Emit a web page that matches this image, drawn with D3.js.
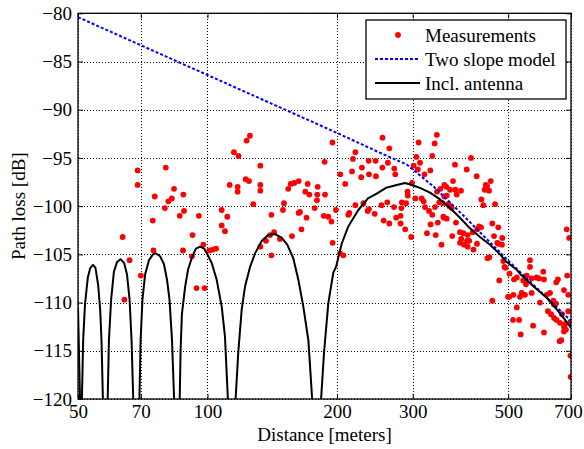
<!DOCTYPE html>
<html>
<head>
<meta charset="utf-8">
<script src="https://d3js.org/d3.v7.min.js"></script>
<style>
body { margin: 0; background: #ffffff; }
text { font-family: "Liberation Serif", "Times New Roman", serif; }
</style>
</head>
<body>
<div id="canvas"></div>
<script>
"use strict"

// tick values
let xTicks = [50, 70, 100, 200, 300, 500, 700];
let yTicks = [-120, -115, -110, -105, -100, -95, -90, -85, -80];

let measurements = [
  [63.5,-103.2],[65.9,-105.6],[64.1,-109.7],[68.8,-96.3],[68.8,-97.8],[70.0,-107.2],
  [74.6,-101.5],[74.9,-104.6],[75.4,-99.0],[80.0,-96.0],[79.6,-100.2],[81.1,-99.5],
  [82.6,-99.2],[83.6,-98.2],[86.2,-101.0],[87.9,-98.8],[88.2,-100.5],[87.7,-104.6],
  [92.3,-103.0],[92.0,-105.2],[94.3,-108.5],[95.5,-101.0],[97.8,-104.0],[98.5,-108.5],
  [101.0,-104.6],[102.9,-104.5],[104.7,-104.4],[107.9,-100.4],[111.2,-101.1],[107.9,-102.0],
  [109.8,-102.6],[112.6,-97.8],[115.2,-94.4],[117.5,-98.0],[117.5,-98.5],[118.1,-94.8],
  [122.7,-97.2],[124.9,-97.4],[123.3,-93.2],[125.5,-92.7],[127.8,-99.8],[132.7,-95.8],
  [132.7,-97.8],[132.7,-98.4],[132.7,-104.2],[136.8,-103.6],[139.8,-103.0],[142.8,-102.7],
  [140.8,-100.9],[140.8,-105.1],[147.4,-103.4],[149.8,-100.4],[150.6,-99.7],[154.1,-98.2],
  [156.1,-97.7],[159.1,-97.6],[162.9,-97.4],[162.9,-100.7],[157.2,-103.1],[164.1,-100.6],
  [165.4,-102.4],[168.8,-98.5],[169.9,-101.2],[171.0,-97.7],[172.5,-98.8],[177.5,-100.2],
  [180.4,-98.0],[180.0,-98.8],[179.7,-99.4],[186.3,-101.0],[187.2,-95.4],[187.6,-98.8],
  [190.9,-101.1],[194.2,-101.6],[195.2,-93.4],[195.4,-103.8],[198.9,-100.4],[203.6,-96.7],
  [203.3,-104.9],[206.9,-105.1],[209,-97.7],[212.5,-100.9],[213.7,-100.7],[216.8,-96.4],
  [217.9,-95.1],[220.7,-94.4],[220.7,-99.9],[227.7,-97.0],[228.6,-96.0],[230.5,-99.7],
  [235.7,-100.5],[237.4,-100.3],[237.4,-96.7],[237.0,-95.3],[246,-95.3],[246.4,-96.9],
  [244.7,-100.8],[253.8,-99.9],[255.2,-92.9],[255,-96.0],[256.8,-101.5],[261.8,-99.6],
  [262.7,-95.5],[264.7,-94.0],[264.7,-101.8],[271.8,-96.1],[271.4,-100.1],[273.3,-96.7],
  [274.6,-101.2],[281.1,-101.0],[281.1,-101.8],[282.3,-100.2],[283,-99.6],[288.2,-102.4],
  [289.5,-99.7],[291.8,-98.5],[292.1,-98.9],[297.6,-103.2],[298.9,-97.6],[301.5,-95.8],
  [304.2,-99.2],[306,-94.9],[308.3,-96.2],[309.6,-93.4],[311.9,-95.5],[314.7,-99.2],
  [318.1,-99.5],[319.5,-96.7],[320.3,-100.1],[323.8,-102.8],[327.3,-100.5],[329.6,-96.3],
  [330,-101.9],[333.1,-94.8],[333.1,-100.9],[337.4,-93.5],[338,-100.1],[339.3,-103.0],
  [341.4,-92.6],[341.7,-98.5],[343.2,-101.7],[345.9,-99.6],[347.8,-98.2],[350,-104.0],
  [352.3,-99.7],[353.4,-101.1],[354.7,-101.2],[355.3,-97.8],[355.3,-99.0],[359.1,-98.0],
  [359.9,-98.9],[359.9,-101.3],[363,-99.8],[365,-100.0],[366.3,-98.3],[369.6,-100.2],
  [370.7,-103.1],[372.2,-97.4],[376.2,-95.7],[376.8,-98.3],[378.2,-101.7],[379.6,-98.8],
  [386.4,-102.7],[388.5,-98.4],[389,-103.4],[386.4,-103.8],[393.3,-102.8],[394.7,-104.0],
  [400.5,-96.2],[401.1,-103.6],[402.6,-103.0],[402.6,-104.2],[406.1,-103.6],[409.9,-95.0],
  [413.6,-102.7],[415.4,-104.5],[422.5,-96.9],[423.2,-103.9],[423.9,-102.4],[427.8,-102.1],
  [432.4,-102.2],[433.2,-99.3],[437.8,-99.9],[441.1,-98.3],[443.5,-97.8],[446.6,-97.9],
  [447.7,-105.4],[452.1,-105.3],[451.4,-98.4],[455.5,-97.4],[459.4,-101.8],[459.4,-109.8],
  [463.6,-103.1],[466.1,-99.8],[471.8,-103.8],[474.4,-102.2],[474.4,-103.9],[476.9,-107.7],
  [484.6,-103.3],[483.8,-104.0],[487.2,-105.7],[490.3,-106.3],[493,-106.4],[499.6,-109.4],
  [503.6,-107.0],[503,-109.4],[513.2,-111.8],[514.1,-109.2],[516,-107.6],[523.7,-107.4],
  [523.7,-110.5],[530.2,-111.8],[532.7,-109.4],[534.7,-113.3],[537.6,-109.0],[542.2,-107.7],
  [547.2,-109.2],[550.1,-108.1],[552.2,-107.2],[562,-105.6],[562,-106.3],[567.1,-107.5],
  [567.1,-109.0],[571.4,-112.4],[581.9,-107.4],[590,-107.5],[592.9,-110.0],[603.5,-106.8],
  [605.8,-107.6],[605.8,-113.1],[614.5,-109.2],[625.6,-109.0],[618.8,-110.9],[629,-111.2],
  [636.7,-109.8],[645.9,-110.1],[639.1,-110.2],[639.1,-111.6],[646.9,-107.9],[652.6,-107.6],
  [648,-111.8],[659.9,-112.1],[658.8,-114.0],[664.5,-113.9],[667,-111.2],[674.2,-108.7],
  [674.2,-112.5],[674.2,-113.0],[678.9,-112.2],[681.4,-112.8],[684,-102.4],[686.1,-107.2],
  [689.8,-109.2],[689.8,-110.9],[693.5,-103.3],[697.9,-112.0],[697.9,-115.5],[698.6,-117.7]
];

// two slope model
let twoSlope = [
  [50,-80.4],[100,-86.4],[200,-92.4],[250,-94.4],[291,-95.7],[336,-98.0],
  [388,-100.7],[496,-105.5],[700,-111.9]
];

// model including antenna pattern (lobes drop below -120 at the nulls)
let withAntenna = [
  [50,-110.5],[50.6,-121],
  [51.0,-121],[51.4,-113.9],[51.9,-110.2],[52.7,-107.4],[53.4,-106.4],[54.2,-106.1],
  [54.9,-106.4],[55.7,-108.2],[56.3,-110.7],[56.7,-113.9],[57.2,-121],
  [58.55,-121],[59.0,-113.9],[59.7,-109.7],[60.6,-106.8],[61.6,-105.8],[62.8,-105.5],
  [64.0,-105.9],[65.0,-107.1],[65.9,-109.7],[66.6,-113.9],[67.3,-121],
  [69.4,-121],[69.9,-113.9],[70.6,-109.7],[71.6,-107.1],[73.1,-105.6],[74.7,-105.0],
  [75.9,-104.9],[77.6,-105.2],[79.2,-106.0],[80.5,-107.6],[81.6,-109.7],[82.7,-113.9],[83.8,-121],
  [86.1,-121],[86.6,-114.9],[87.2,-111.2],[88.7,-108.4],[90.1,-106.6],[91.9,-105.4],
  [94.0,-104.4],[96.1,-104.2],[98.2,-104.4],[99.7,-104.9],[102.3,-105.9],[105.0,-107.6],
  [107.9,-110.4],[109.8,-113.5],[111.8,-121],
  [115.9,-121],[117.9,-115.2],[120.1,-110.7],[122.3,-108.3],[125.6,-106.3],[129.0,-104.9],
  [133.7,-103.6],[138.5,-103.0],[143.6,-102.9],[148.8,-103.3],[153.3,-104.0],[158.3,-105.4],
  [162.6,-107.6],[167.0,-110.4],[171.6,-113.9],[175.7,-121],
  [183.1,-121],[186.6,-115.2],[190.9,-110.1],[196.1,-106.9],[199.0,-106.3],[205.1,-103.9],
  [212.5,-102.1],[224.2,-100.4],[236.1,-99.2],[247.4,-98.7],[260.0,-98.1],[275.4,-97.8],
  [287.9,-97.6],[298.4,-97.8],[311.9,-98.1],[329.1,-98.6],[347.2,-99.3],[366.3,-100.2],
  [386.4,-101.2],[407.6,-102.3],[430.1,-103.2],[453.7,-104.0],[478.7,-105.0],[496.2,-105.8],
  [523.5,-106.6],[532.7,-107.0],[572.1,-108.3],[614.6,-109.5],[648.4,-110.7],[678.0,-111.8],
  [700,-112.6]
];

let legendNames = ["Measurements", "Two slope model", "Incl. antenna"];

/* plot area */
let plotLeft = 78;
let plotRight = 571;
let plotTop = 13.3;
let plotBottom = 399;

let drawing = d3.select("#canvas")
    .append("svg")
    .attr("width", 584)
    .attr("height", 449);

let x = d3.scaleLog().domain([50, 700]).range([plotLeft, plotRight]);
let y = d3.scaleLinear().domain([-120, -80]).range([plotBottom, plotTop]);

drawing.append("clipPath")
    .attr("id", "plotclip")
    .append("rect")
    .attr("x", plotLeft)
    .attr("y", plotTop)
    .attr("width", plotRight - plotLeft)
    .attr("height", plotBottom - plotTop);

/* dotted grid, snapped so the dots stay dark */
let snap = v => Math.round(v) + 0.5;
let grid = drawing.append("g");
grid.selectAll(".gx")
    .data(xTicks)
    .join("line")
    .attr("class", "gx")
    .attr("x1", d => snap(x(d)))
    .attr("x2", d => snap(x(d)))
    .attr("y1", plotTop)
    .attr("y2", plotBottom);
grid.selectAll(".gy")
    .data(yTicks)
    .join("line")
    .attr("class", "gy")
    .attr("x1", plotLeft)
    .attr("x2", plotRight)
    .attr("y1", d => snap(y(d)))
    .attr("y2", d => snap(y(d)));
grid.selectAll("line")
    .attr("stroke", "#000")
    .attr("stroke-width", 1)
    .attr("stroke-dasharray", "1,2")
    .attr("shape-rendering", "crispEdges");

/* axes, ticks point inward like matlab */
let xAxis = drawing.append("g")
    .attr("transform", "translate(0," + plotBottom + ")")
    .call(d3.axisBottom(x).tickValues(xTicks).tickFormat(d3.format("d"))
        .tickSizeInner(-5).tickSizeOuter(0).tickPadding(6));
let xAxisTop = drawing.append("g")
    .attr("transform", "translate(0," + plotTop + ")")
    .call(d3.axisTop(x).tickValues(xTicks).tickFormat("")
        .tickSizeInner(-5).tickSizeOuter(0));
let yAxis = drawing.append("g")
    .attr("transform", "translate(" + plotLeft + ",0)")
    .call(d3.axisLeft(y).tickValues(yTicks)
        .tickSizeInner(-5).tickSizeOuter(0).tickPadding(6));
let yAxisRight = drawing.append("g")
    .attr("transform", "translate(" + plotRight + ",0)")
    .call(d3.axisRight(y).tickValues(yTicks).tickFormat("")
        .tickSizeInner(-5).tickSizeOuter(0));

drawing.selectAll(".domain").remove();
drawing.selectAll(".tick line").attr("stroke", "#000");
drawing.selectAll(".tick text")
    .attr("fill", "#000")
    .style("font-size", "19px")
    .style("font-family", "'Liberation Serif', serif");

// last label sits on the window edge, pull it in a little
xAxis.selectAll(".tick text")
    .filter(d => d === 700)
    .attr("dx", -3);

/* measurement dots */
let dots = drawing.append("g")
    .attr("clip-path", "url(#plotclip)")
    .selectAll("circle")
    .data(measurements)
    .join("circle")
    .attr("cx", d => x(d[0]))
    .attr("cy", d => y(d[1]))
    .attr("r", 2.9)
    .attr("fill", "#ff0000");

let line = d3.line()
    .x(d => x(d[0]))
    .y(d => y(d[1]));

/* two slope model, blue dashed */
let modelLine = drawing.append("path")
    .datum(twoSlope)
    .attr("clip-path", "url(#plotclip)")
    .attr("d", line)
    .attr("fill", "none")
    .attr("stroke", "#0000ff")
    .attr("stroke-width", 2)
    .attr("stroke-dasharray", "3,2");

/* incl. antenna, black */
let antennaLine = drawing.append("path")
    .datum(withAntenna)
    .attr("clip-path", "url(#plotclip)")
    .attr("d", line)
    .attr("fill", "none")
    .attr("stroke", "#000")
    .attr("stroke-width", 2)
    .attr("stroke-linejoin", "round");

/* box round the plot */
let frame = drawing.append("rect")
    .attr("x", plotLeft)
    .attr("y", plotTop)
    .attr("width", plotRight - plotLeft)
    .attr("height", plotBottom - plotTop)
    .attr("fill", "none")
    .attr("stroke", "#000")
    .attr("stroke-width", 1.3);

/* axis titles */
drawing.append("text")
    .attr("x", (plotLeft + plotRight) / 2)
    .attr("y", 441)
    .attr("text-anchor", "middle")
    .style("font-size", "19px")
    .text("Distance [meters]");

drawing.append("text")
    .attr("transform", "translate(25," + (plotTop + plotBottom) / 2 + ") rotate(-90)")
    .attr("text-anchor", "middle")
    .style("font-size", "19px")
    .text("Path loss [dB]");

/* legend */
let legend = drawing.append("g");
legend.append("rect")
    .attr("x", 366)
    .attr("y", 20)
    .attr("width", 200)
    .attr("height", 79)
    .attr("fill", "#fff")
    .attr("stroke", "#000")
    .attr("stroke-width", 1.3);

let rowY = [35, 59, 83];

legend.append("circle")
    .attr("cx", 398)
    .attr("cy", rowY[0])
    .attr("r", 2.9)
    .attr("fill", "#ff0000");
legend.append("line")
    .attr("x1", 375).attr("x2", 420)
    .attr("y1", rowY[1]).attr("y2", rowY[1])
    .attr("stroke", "#0000ff")
    .attr("stroke-width", 2)
    .attr("stroke-dasharray", "3,2");
legend.append("line")
    .attr("x1", 375).attr("x2", 420)
    .attr("y1", rowY[2]).attr("y2", rowY[2])
    .attr("stroke", "#000")
    .attr("stroke-width", 2);

legend.selectAll(".lt")
    .data(legendNames)
    .join("text")
    .attr("class", "lt")
    .attr("x", 425)
    .attr("y", (d, i) => rowY[i])
    .attr("dy", "0.35em")
    .style("font-size", "19px")
    .text(d => d);
</script>
</body>
</html>
